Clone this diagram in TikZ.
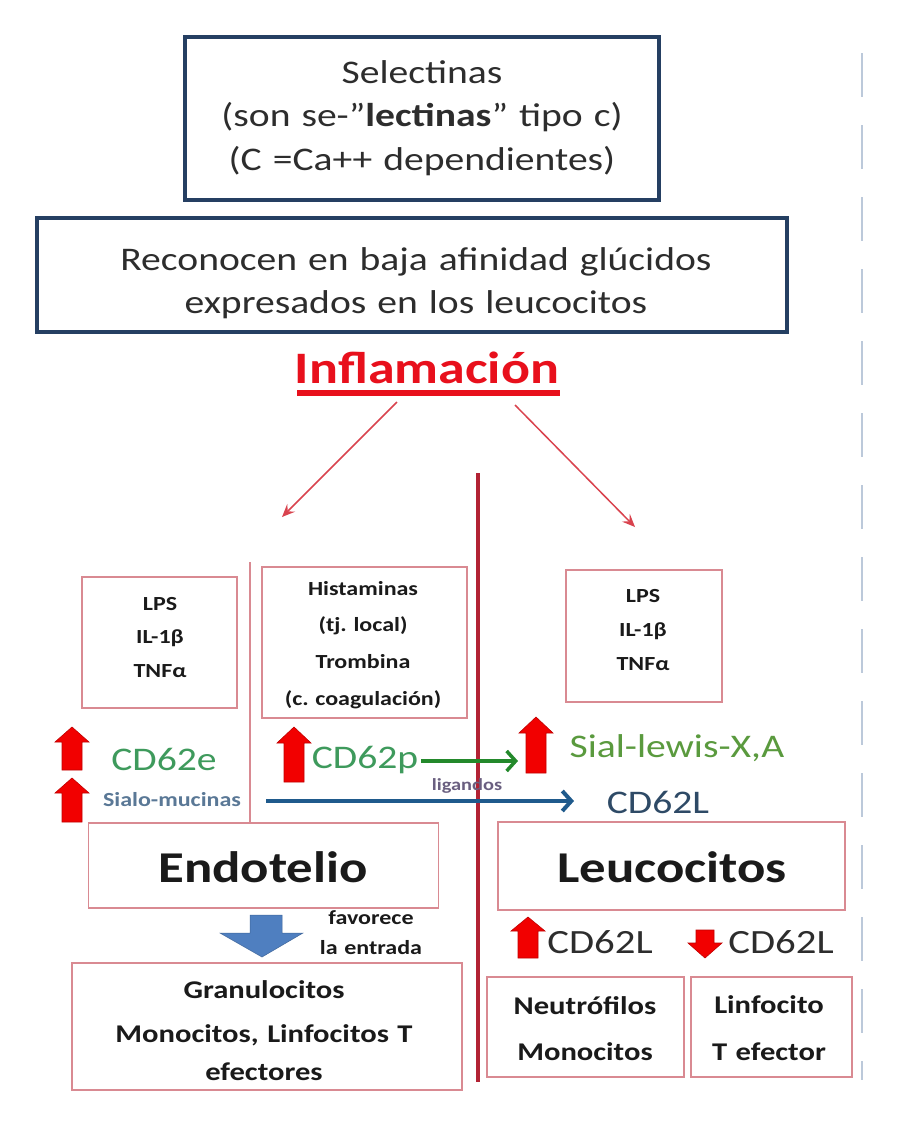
\documentclass[tikz,border=0pt]{standalone}
\usepackage{fontspec}
\setmainfont{Carlito}[FakeStretch=1.2]
\frenchspacing
\usetikzlibrary{arrows.meta}
\definecolor{navy}{HTML}{253F62}
\definecolor{txt}{HTML}{2D2D2D}
\definecolor{blk}{HTML}{1A1A1A}
\definecolor{pinkb}{HTML}{D98A92}
\definecolor{inflred}{HTML}{E8101C}
\definecolor{thinred}{HTML}{D9434E}
\definecolor{vred}{HTML}{B22234}
\definecolor{blockred}{HTML}{F20000}
\definecolor{blockredd}{HTML}{C00000}
\definecolor{gtext}{HTML}{3E9A5C}
\definecolor{gtext2}{HTML}{5A9A3E}
\definecolor{garrow}{HTML}{23892B}
\definecolor{barrow}{HTML}{1F5A8C}
\definecolor{cdl}{HTML}{2E4A66}
\definecolor{sialo}{HTML}{5A7896}
\definecolor{ligc}{HTML}{6A5F80}
\definecolor{bblock}{HTML}{4F7FC0}
\definecolor{dashc}{HTML}{BCC9DA}
\newcommand{\redUp}[4]{% cx, top, bottom, head height
  \filldraw[fill=blockred,draw=blockredd,line width=0.6pt]
    (#1-17,#2+#4) -- (#1,#2) -- (#1+17,#2+#4) -- (#1+10,#2+#4) -- (#1+10,#3)
    -- (#1-10,#3) -- (#1-10,#2+#4) -- cycle;}
\begin{document}
\begin{tikzpicture}[x=1pt,y=-1pt,
  navybox/.style={draw=navy,line width=4pt,inner sep=0pt},
  pinkbox/.style={draw=pinkb,line width=1.5pt,inner sep=0pt},
  tx/.style={anchor=base,inner sep=0pt,text=txt,align=center},
  bigt/.style={tx,font=\fontsize{33}{43.5}\selectfont},
  smallb/.style={tx,text=blk,font=\fontsize{20}{36}\bfseries\selectfont},
  midb/.style={tx,text=blk,font=\fontsize{25.5}{45}\bfseries\selectfont},
  hugeb/.style={tx,text=blk,font=\fontsize{44}{50}\bfseries\selectfont},
  thinarr/.style={draw=thinred,line width=1.5pt,-{Stealth[length=13pt,width=11pt,inset=5pt]}},
  chev/.style={-{Straight Barb[length=9pt,width=20pt]}}
]
\useasboundingbox (0,0) rectangle (916,1133);
\fill[white] (0,0) rectangle (916,1133);

% dashed right line
\draw[dashc,line width=2.5pt,dash pattern=on 44pt off 28pt] (862,53) -- (862,1080);

% top boxes
\node[navybox,minimum width=474pt,minimum height=163pt] (selbox) at (422,118.5) {};
\node[bigt,text width=470pt] (seltext) at (422,83)
  {Selectinas\\(son se-\char"201D\textbf{lectinas}\char"201D{} tipo c)\\(C =Ca++ dependientes)};
\node[navybox,minimum width=750pt,minimum height=114pt] (recbox) at (412,275) {};
\node[bigt,text width=740pt] (rectext) at (416,270)
  {Reconocen en baja afinidad glúcidos\\expresados en los leucocitos};

% Inflamacion
\node[tx,text=inflred,font=\fontsize{45}{50}\bfseries\selectfont] (infl) at (427,383) {Inflamación};
\draw[inflred,line width=6pt] (297,393) -- (560,393);
\coordinate (ls) at (397,402);
\coordinate (le) at (282,517);
\coordinate (rs) at (515,405);
\coordinate (re) at (635,527);
\draw[thinarr] (ls) -- (le);
\draw[thinarr] (rs) -- (re);

% central vertical line
\coordinate (vt) at (478,473);
\coordinate (vb) at (478,1082);
\draw[vred,line width=4.5pt] (vt) -- (vb);
% left thin vertical line
\coordinate (lt) at (250,562);
\coordinate (lb) at (250,822);
\draw[pinkb,line width=1.2pt] (lt) -- (lb);

% small boxes
\node[pinkbox,minimum width=155pt,minimum height=131pt] (lps1) at (159.5,642.5) {};
\node[smallb,text width=150pt,font=\fontsize{20}{33.5}\bfseries\selectfont] (lps1t) at (160,610) {LPS\\IL-1β\\TNFα};
\node[pinkbox,minimum width=205pt,minimum height=151pt] (hist) at (364.5,642.5) {};
\node[smallb,text width=200pt,font=\fontsize{20}{36.7}\bfseries\selectfont] (histt) at (363,595)
  {Histaminas\\(tj. local)\\Trombina\\(c. coagulación)};
\node[pinkbox,minimum width=156pt,minimum height=132pt] (lps2) at (644,636) {};
\node[smallb,text width=150pt,font=\fontsize{20}{34}\bfseries\selectfont] (lps2t) at (643,602) {LPS\\IL-1β\\TNFα};

% red block arrows
\redUp{72}{727}{770}{15}
\redUp{72}{778}{822}{15}
\redUp{294}{727}{782}{16}
\redUp{536}{717}{773}{16}

% labels middle row
\node[tx,text=gtext,font=\fontsize{33}{40}\selectfont] (cd62e) at (164,770) {CD62e};
\node[tx,text=sialo,font=\fontsize{20}{24}\bfseries\selectfont] (sialom) at (172,806) {Sialo-mucinas};
\node[tx,text=gtext,font=\fontsize{33}{40}\selectfont] (cd62p) at (365,768) {CD62p};
\node[tx,text=gtext2,font=\fontsize{33}{40}\selectfont] (sial) at (677,757) {Sial-lewis-X,A};
\node[tx,text=cdl,font=\fontsize{33}{40}\selectfont] (cd62lu) at (658,813) {CD62L};
\node[tx,text=ligc,font=\fontsize{17}{20}\bfseries\selectfont] (lig) at (467,790) {ligandos};

\coordinate (g1) at (421,761);
\coordinate (g2) at (518,761);
\draw[garrow,line width=3.5pt,chev] (g1) -- (g2);
\coordinate (b1) at (266,801);
\coordinate (b2) at (574,801);
\draw[barrow,line width=4pt,chev] (b1) -- (b2);

% Endotelio / Leucocitos
\node[pinkbox,minimum width=350pt,minimum height=85pt,fill=white] (endo) at (263.5,865.5) {};
\node[hugeb] (endot) at (263,882) {Endotelio};
\node[pinkbox,minimum width=347pt,minimum height=88pt,fill=white] (leuc) at (671.5,866) {};
\node[hugeb] (leuct) at (672,882) {Leucocitos};

% blue block arrow down
\filldraw[fill=bblock,draw=bblock!80!black,line width=0.5pt]
  (250,915) -- (282,915) -- (282,933) -- (303,933) -- (262,957) -- (220,933) -- (250,933) -- cycle;
\node[smallb,font=\fontsize{20}{30}\bfseries\selectfont,text width=120pt] (fav) at (371,924) {favorece\\la entrada};

% bottom CD62L
\redUp{528}{917}{958}{14}
\filldraw[fill=blockred,draw=blockredd,line width=0.6pt]
  (696,930) -- (714,930) -- (714,943) -- (722,943) -- (705,958) -- (688,943) -- (696,943) -- cycle;
\node[tx,text=txt,font=\fontsize{34}{40}\selectfont] (cdlb1) at (600,953) {CD62L};
\node[tx,text=txt,font=\fontsize{34}{40}\selectfont] (cdlb2) at (781,953) {CD62L};

% bottom boxes
\node[pinkbox,minimum width=390pt,minimum height=127pt] (gran) at (267,1026.5) {};
\node[midb,text width=380pt,font=\fontsize{25.5}{44}\bfseries\selectfont] (grant) at (264,998)
  {Granulocitos\\Monocitos, Linfocitos T\\[-6pt]efectores};
\node[pinkbox,minimum width=197pt,minimum height=100pt] (neut) at (585.5,1027) {};
\node[midb,text width=190pt,font=\fontsize{25.5}{46}\bfseries\selectfont] (neutt) at (585,1014) {Neutrófilos\\Monocitos};
\node[pinkbox,minimum width=161pt,minimum height=100pt] (linf) at (771.5,1027) {};
\node[midb,text width=155pt,font=\fontsize{25.5}{47}\bfseries\selectfont] (linft) at (769,1013) {Linfocito\\T efector};
\end{tikzpicture}
\end{document}
